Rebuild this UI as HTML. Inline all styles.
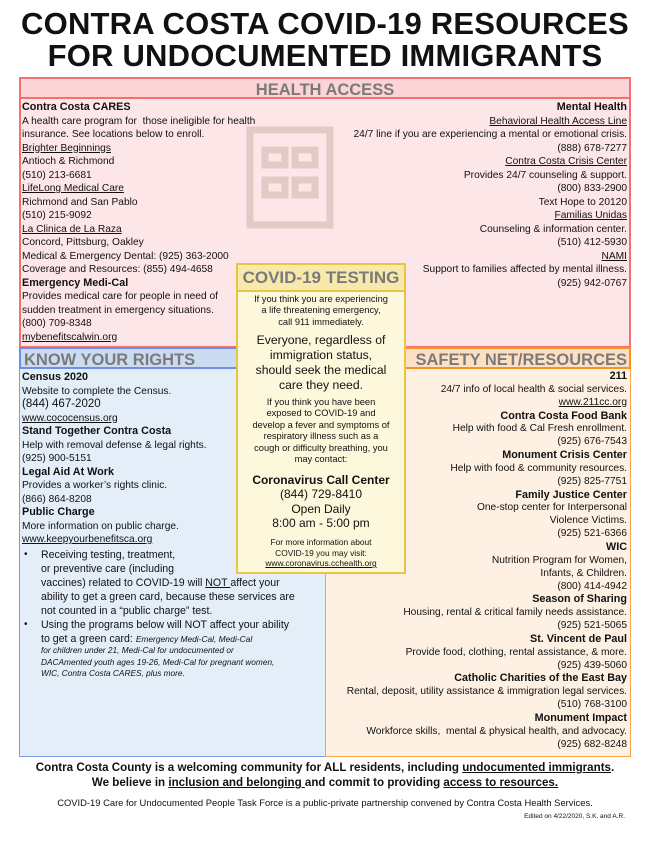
<!DOCTYPE html>
<html><head><meta charset="utf-8"><style>
*{margin:0;padding:0;box-sizing:border-box}
body{width:650px;height:841px;background:#fff;font-family:"Liberation Sans",sans-serif;color:#111;position:relative;overflow:hidden}
.abs{position:absolute}
.title{left:0;width:650px;text-align:center;font-weight:bold;font-size:31px;line-height:31px;letter-spacing:0.2px}
.box{position:absolute}
.hdr{position:absolute;font-weight:bold;color:#7a7a7a;font-size:16.5px;line-height:20px}
.txt{position:absolute;font-size:10.2px;line-height:13.5px}
.txt b{font-size:10.8px}
.r{text-align:right}
u{text-decoration:underline}
.c{text-align:center}
</style></head><body>
<div class="abs title" style="top:8px">CONTRA COSTA COVID-19 RESOURCES</div>
<div class="abs title" style="top:40px">FOR UNDOCUMENTED IMMIGRANTS</div>

<!-- Health -->
<div class="box" style="left:19px;top:77px;width:612px;height:271px;background:#fde6e8;border:2px solid #f47070"></div>
<div class="box" style="left:19px;top:77px;width:612px;height:22px;background:#fcd3d6;border:2px solid #f47070"></div>
<div class="hdr" style="left:19px;top:80px;width:612px;text-align:center">HEALTH ACCESS</div>
<svg class="abs" style="left:245px;top:110px" width="90" height="120"><g fill="none" stroke="#e2cbc5" stroke-width="7"><rect x="5" y="20" width="80" height="95"/><rect x="20" y="40" width="20" height="15"/><rect x="50" y="40" width="20" height="15"/><rect x="20" y="70" width="20" height="15"/><rect x="50" y="70" width="20" height="15"/></g></svg>
<div class="txt" style="left:22px;top:101px;width:260px">
<b>Contra Costa CARES</b><br>A health care program for&nbsp; those ineligible for health<br>insurance. See locations below to enroll.<br><u>Brighter Beginnings</u><br>Antioch &amp; Richmond<br>(510) 213-6681<br><u>LifeLong Medical Care</u><br>Richmond and San Pablo<br>(510) 215-9092<br><u>La Clinica de La Raza</u><br>Concord, Pittsburg, Oakley<br>Medical &amp; Emergency Dental: (925) 363-2000<br>Coverage and Resources: (855) 494-4658<br><b>Emergency Medi-Cal</b><br>Provides medical care for people in need of<br>sudden treatment in emergency situations.<br>(800) 709-8348<br><u>mybenefitscalwin.org</u></div>
<div class="txt r" style="left:300px;top:101px;width:327px">
<b>Mental Health</b><br><u>Behavioral Health Access Line</u><br>24/7 line if you are experiencing a mental or emotional crisis.<br>(888) 678-7277<br><u>Contra Costa Crisis Center</u><br>Provides 24/7 counseling &amp; support.<br>(800) 833-2900<br>Text Hope to 20120<br><u>Familias Unidas</u><br>Counseling &amp; information center.<br>(510) 412-5930<br><u>NAMI</u><br>Support to families affected by mental illness.<br>(925) 942-0767</div>

<!-- Know your rights -->
<div class="box" style="left:19px;top:347px;width:307px;height:410px;background:#e4eef9;border:1.5px solid #7a99e8"></div>
<div class="box" style="left:19px;top:347px;width:307px;height:22px;background:#cbdcf2;border:2px solid #6d8fe8"></div>
<div class="hdr" style="left:24px;top:350px">KNOW YOUR RIGHTS</div>
<div class="txt" style="left:22px;top:371px;width:300px">
<b>Census 2020</b><br>Website to complete the Census.<br><span style="font-size:11.5px">(844) 467-2020</span><br><u>www.cococensus.org</u><br><b>Stand Together Contra Costa</b><br>Help with removal defense &amp; legal rights.<br>(925) 900-5151<br><b>Legal Aid At Work</b><br>Provides a worker’s rights clinic.<br>(866) 864-8208<br><b>Public Charge</b><br>More information on public charge.<br><u>www.keepyourbenefitsca.org</u></div>
<div class="txt" style="left:24px;top:548px;font-size:10px">•</div>
<div class="txt" style="left:24px;top:618px;font-size:10px">•</div>
<div class="txt" style="left:41px;top:548px;width:284px;font-size:10.6px;line-height:14px">Receiving testing, treatment,<br>or preventive care (including<br>vaccines) related to COVID-19 will <u>NOT </u>affect your<br>ability to get a green card, because these services are<br>not counted in a “public charge” test.</div>
<div class="txt" style="left:41px;top:618px;width:284px;font-size:10.6px;line-height:14px">Using the programs below will NOT affect your ability<br>to get a green card: <i style="font-size:8.4px;line-height:11.5px">Emergency Medi-Cal, Medi-Cal</i></div>
<div class="txt" style="left:41px;top:645px;width:284px;font-size:8.3px;line-height:11.7px;font-style:italic">for children under 21, Medi-Cal for undocumented or<br>DACAmented youth ages 19-26, Medi-Cal for pregnant women,<br>WIC, Contra Costa CARES, plus more.</div>

<!-- Safety net -->
<div class="box" style="left:325px;top:347px;width:306px;height:410px;background:#fef1e4;border:1.5px solid #f8a64a"></div>
<div class="box" style="left:325px;top:347px;width:306px;height:22px;background:#fde0c4;border:2px solid #f7931e"></div>
<div class="hdr" style="left:325px;top:350px;width:302px;text-align:right">SAFETY NET/RESOURCES</div>
<div class="txt r" style="left:330px;top:370px;width:297px;line-height:12.85px">
<b>211</b><br>24/7 info of local health &amp; social services.<br><u>www.211cc.org</u><br><b>Contra Costa Food Bank</b><br>Help with food &amp; Cal Fresh enrollment.<br>(925) 676-7543<br><b>Monument Crisis Center</b><br>Help with food &amp; community resources.<br>(925) 825-7751<br><b>Family Justice Center</b><br>One-stop center for Interpersonal<br>Violence Victims.<br>(925) 521-6366<br><b>WIC</b><br>Nutrition Program for Women,<br>Infants, &amp; Children.<br>(800) 414-4942<br><b>Season of Sharing</b><br>Housing, rental &amp; critical family needs assistance.<br>(925) 521-5065<br><b>St. Vincent de Paul</b><br>Provide food, clothing, rental assistance, &amp; more.<br>(925) 439-5060<br><b>Catholic Charities of the East Bay</b><br>Rental, deposit, utility assistance &amp; immigration legal services.<br>(510) 768-3100<br><b>Monument Impact</b><br>Workforce skills,&nbsp; mental &amp; physical health, and advocacy.<br>(925) 682-8248</div>

<!-- COVID box -->
<div class="box" style="left:236px;top:263px;width:170px;height:311px;background:#fdf8dc;border:2px solid #e9c545"></div>
<div class="box" style="left:236px;top:263px;width:170px;height:29px;background:#f6e9ab;border:2px solid #e9c545"></div>
<div class="hdr" style="left:236px;top:268px;width:170px;text-align:center;font-size:17px">COVID-19 TESTING</div>
<div class="txt c" style="left:238px;top:294px;width:166px;font-size:9.3px;line-height:11.4px">If you think you are experiencing<br>a life threatening emergency,<br>call 911 immediately.</div>
<div class="txt c" style="left:238px;top:333px;width:166px;font-size:12.2px;line-height:15px">Everyone, regardless of<br>immigration status,<br>should seek the medical<br>care they need.</div>
<div class="txt c" style="left:238px;top:397px;width:166px;font-size:9.3px;line-height:11.4px">If you think you have been<br>exposed to COVID-19 and<br>develop a fever and symptoms of<br>respiratory illness such as a<br>cough or difficulty breathing, you<br>may contact:</div>
<div class="txt c" style="left:238px;top:473px;width:166px;font-size:12px;line-height:14.3px"><b style="font-size:12px">Coronavirus Call Center</b><br>(844) 729-8410<br>Open Daily<br>8:00 am - 5:00 pm</div>
<div class="txt c" style="left:238px;top:537px;width:166px;font-size:8.4px;line-height:10.6px">For more information about<br>COVID-19 you may visit:<br><u>www.coronavirus.cchealth.org</u></div>

<!-- footer -->
<div class="abs c" style="left:0;top:760px;width:650px;font-weight:bold;font-size:11.6px;line-height:15px">Contra Costa County is a welcoming community for ALL residents, including <u>undocumented immigrants</u>.<br>We believe in <u>inclusion and belonging </u>and commit to providing <u>access to resources.</u></div>
<div class="abs c" style="left:0;top:797px;width:650px;font-size:9.4px">COVID-19 Care for Undocumented People Task Force is a public-private partnership convened by Contra Costa Health Services.</div>
<div class="abs r" style="left:0;top:813px;width:625px;font-size:6.5px">Edited on 4/22/2020, S.K. and A.R.</div>
</body></html>
